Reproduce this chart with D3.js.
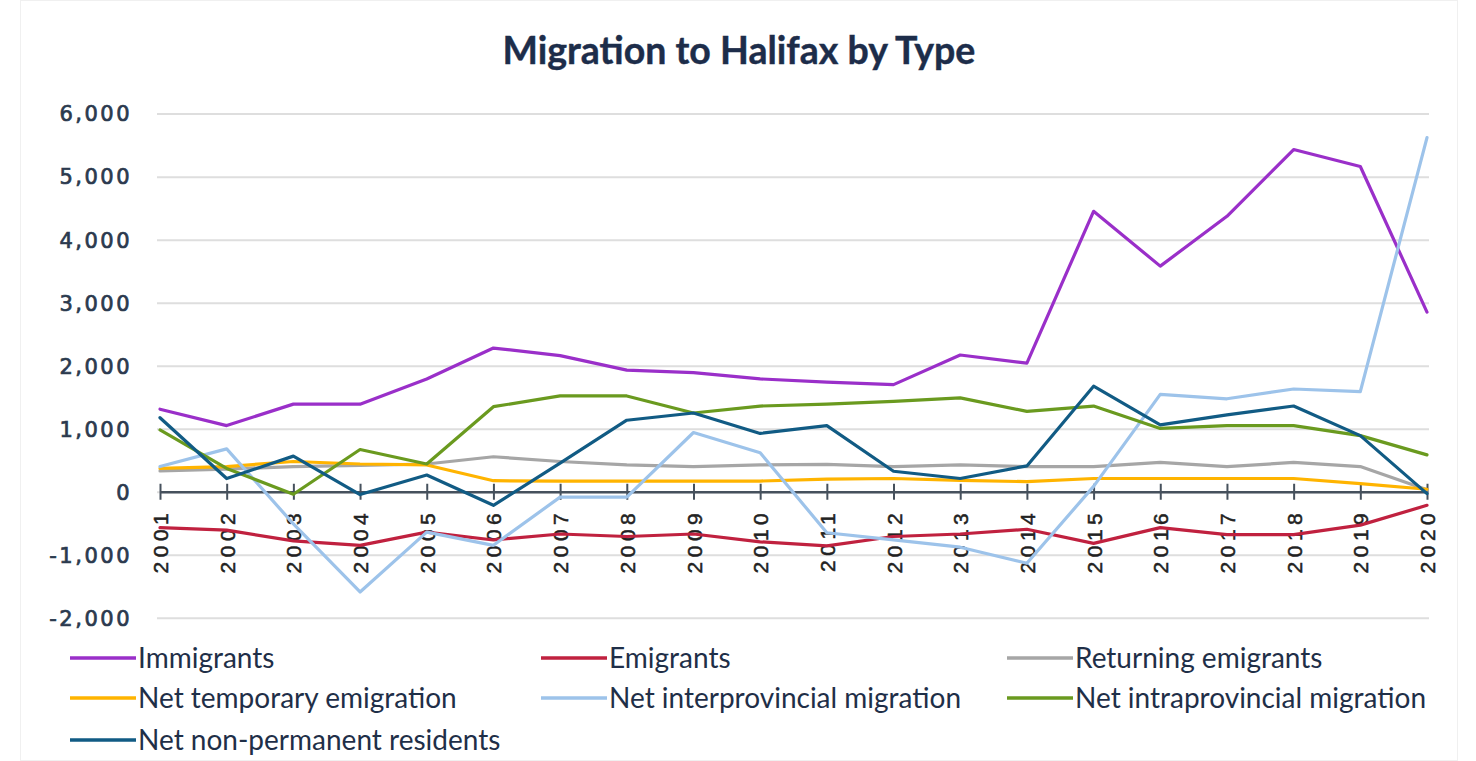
<!DOCTYPE html>
<html>
<head>
<meta charset="utf-8">
<script src="https://cdn.jsdelivr.net/npm/d3@7"></script>
<style>
  html, body { margin: 0; padding: 0; background: #ffffff; }
  svg { display: block; }
</style>
</head>
<body>
<svg id="chart" width="1476" height="761"></svg>
<script>
// ---- Data ----
const years = ["2001","2002","2003","2004","2005","2006","2007","2008","2009","2010",
               "2011","2012","2013","2014","2015","2016","2017","2018","2019","2020"];
const immigrants   = [1310, 1050, 1390, 1390, 1790, 2280, 2160, 1930, 1890, 1790, 1740, 1700, 2170, 2040, 4450, 3580, 4370, 5430, 5160, 2850];
const emigrants    = [-570, -610, -780, -850, -640, -765, -670, -710, -670, -795, -860, -710, -670, -595, -820, -570, -680, -680, -530, -215];
const returning    = [330, 360, 400, 420, 440, 555, 480, 425, 400, 425, 435, 400, 425, 400, 400, 465, 400, 465, 400, 30];
const netTemporary = [370, 400, 480, 440, 425, 175, 170, 170, 170, 170, 200, 210, 180, 160, 210, 210, 210, 210, 130, 40];
const netInterprov = [400, 680, -510, -1590, -640, -850, -85, -85, 940, 620, -650, -765, -880, -1135, 85, 1545, 1475, 1630, 1590, 5620];
const netIntraprov = [980, 370, -40, 670, 440, 1350, 1520, 1520, 1250, 1360, 1390, 1435, 1490, 1275, 1360, 1005, 1050, 1050, 890, 585];
const netNonPerm   = [1175, 210, 565, -45, 265, -215, 455, 1135, 1250, 925, 1050, 325, 210, 410, 1675, 1060, 1220, 1360, 890, -30];
const yTicks = [-2000, -1000, 0, 1000, 2000, 3000, 4000, 5000, 6000];

const seriesNames  = ["Immigrants", "Emigrants", "Returning emigrants", "Net temporary emigration",
                      "Net interprovincial migration", "Net intraprovincial migration", "Net non-permanent residents"];
const seriesValues = [immigrants, emigrants, returning, netTemporary, netInterprov, netIntraprov, netNonPerm];
const seriesColors = ["#9a2fc9", "#c0213f", "#a6a6a6", "#ffb400", "#9dc3ea", "#6a9a1f", "#115b84"];

// ---- Layout ----
const svg = d3.select("#chart");
const plotLeft = 160, plotRight = 1427, gridLeft = 157, gridRight = 1429;

svg.append("rect").attr("x", 20.5).attr("y", 0.5).attr("width", 1437).attr("height", 760)
  .attr("fill", "#ffffff").attr("stroke", "#f0f0f0");

const x = d3.scalePoint().domain(years).range([plotLeft, plotRight]).padding(0);
const y = d3.scaleLinear().domain([-2000, 6000]).range([617.8, 113.6]);

// Title
svg.append("text")
  .attr("x", 739).attr("y", 64)
  .attr("text-anchor", "middle")
  .attr("font-family", "Lato, 'Open Sans', sans-serif")
  .attr("font-weight", "bold")
  .attr("font-size", 37.5)
  .attr("fill", "#1d2d4a")
  .attr("stroke", "#1d2d4a").attr("stroke-width", 0.4)
  .text("Migration to Halifax by Type");

// Gridlines
const grid = svg.append("g").attr("transform", `translate(${gridLeft},0)`)
  .call(d3.axisLeft(y).tickValues(yTicks).tickSize(-(gridRight - gridLeft)).tickFormat(""));
grid.select(".domain").remove();
grid.selectAll(".tick line").attr("stroke", "#dedede").attr("stroke-width", 2);

// Y axis labels
const fmt = d3.format(",");
const yAxis = svg.append("g").attr("transform", `translate(${gridLeft},0)`)
  .call(d3.axisLeft(y).tickValues(yTicks).tickSize(0).tickPadding(25)
        .tickFormat(d => fmt(d).replace("\u2212", "-")));
yAxis.select(".domain").remove();
yAxis.selectAll(".tick text")
  .attr("font-family", "'DejaVu Sans', sans-serif")
  .attr("font-size", 21)
  .attr("letter-spacing", "2.5px")
  .attr("fill", "#2b3a4e")
  .attr("stroke", "#2b3a4e").attr("stroke-width", 0.7)
  .attr("dy", "0.35em");

// X axis at zero
const y0 = y(0);
const xAxis = svg.append("g").attr("transform", `translate(0,${y0})`)
  .call(d3.axisBottom(x).tickSizeInner(8).tickSizeOuter(0));
xAxis.select(".domain").attr("stroke", "#46515d").attr("stroke-width", 2.4);
xAxis.selectAll(".tick line").attr("stroke", "#46515d").attr("stroke-width", 2).attr("y1", -8).attr("y2", 8);
xAxis.selectAll(".tick text")
  .attr("font-family", "'Liberation Sans', Arial, sans-serif")
  .attr("font-size", 21)
  .attr("letter-spacing", "4.5px")
  .attr("fill", "#222222")
  .attr("stroke", "#222222").attr("stroke-width", 0.5)
  .attr("text-anchor", "end")
  .attr("transform", "rotate(-90)")
  .attr("x", -17).attr("y", 0).attr("dy", "0.36em");

// Lines
const line = d3.line().x((d, i) => x(years[i])).y(d => y(d));
svg.append("g").selectAll("path")
  .data(seriesValues)
  .join("path")
  .attr("d", d => line(d))
  .attr("fill", "none")
  .attr("stroke", (d, i) => seriesColors[i])
  .attr("stroke-width", 3.2)
  .attr("stroke-linejoin", "round")
  .attr("stroke-linecap", "round");

// Legend
const legendCols = [70, 541, 1007];
const legendRows = [658, 698, 740];
const leg = svg.append("g").selectAll("g")
  .data(seriesNames)
  .join("g")
  .attr("transform", (d, i) => `translate(${legendCols[i % 3]},${legendRows[Math.floor(i / 3)]})`);
leg.append("line").attr("x1", 0).attr("x2", 66).attr("y1", 0).attr("y2", 0)
  .attr("stroke", (d, i) => seriesColors[i]).attr("stroke-width", 3.5);
leg.append("text").attr("x", 68).attr("y", 0).attr("dy", "0.35em")
  .attr("font-family", "Lato, 'Open Sans', sans-serif")
  .attr("font-size", 28)
  .attr("fill", "#1f2f48")
  .text(d => d);
</script>
</body>
</html>
